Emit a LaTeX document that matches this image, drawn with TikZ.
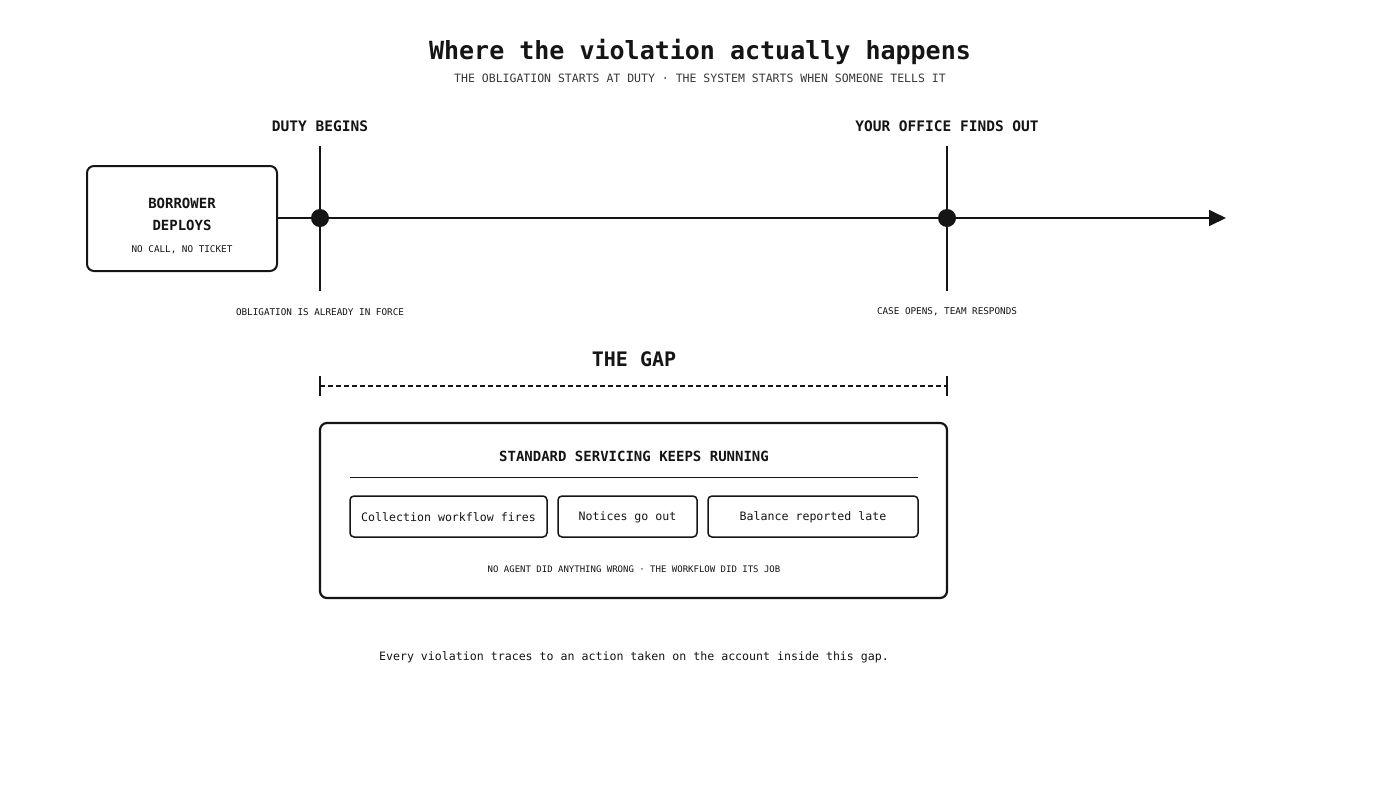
\documentclass[tikz,border=0pt]{standalone}
\usepackage{fontspec}
\setmainfont{DejaVu Sans Mono}
\usetikzlibrary{arrows.meta}
\definecolor{ink}{HTML}{151515}
\begin{document}
\begin{tikzpicture}[x=1pt,y=-1pt,
  lbl/.style={font=\fontsize{14.5}{16}\selectfont\bfseries,text=ink},
  tiny/.style={font=\fontsize{9.3}{11}\selectfont,text=ink},
  chip/.style={draw=ink,line width=1.5pt,rounded corners=4pt},
  chiptxt/.style={font=\fontsize{11.6}{13}\selectfont,text=ink}]
\useasboundingbox (0,0) rectangle (1400,788);
\fill[white] (0,0) rectangle (1400,788);
\node[font=\fontsize{25}{28}\selectfont\bfseries,text=ink] (title) at (700,52) {Where the violation actually happens};
\node[font=\fontsize{11.5}{13}\selectfont,text=ink!85] (sub) at (700,78) {THE OBLIGATION STARTS AT DUTY · THE SYSTEM STARTS WHEN SOMEONE TELLS IT};
\node[lbl] (duty) at (320,126) {DUTY BEGINS};
\node[lbl] (office) at (947,126) {YOUR OFFICE FINDS OUT};
\draw[ink,line width=2pt,rounded corners=7pt] (87,166) rectangle (277,271);
\node[lbl,align=center,font=\fontsize{14}{22}\selectfont\bfseries] (bor) at (182,214) {BORROWER\\DEPLOYS};
\node[tiny] (nocall) at (182,250) {NO CALL, NO TICKET};
\coordinate (ls) at (277,218);
\coordinate (le) at (1226,218);
\draw[ink,line width=1.8pt,-{Triangle[length=17pt,width=16pt]}] (ls) -- (le);
\draw[ink,line width=2pt] (320,146) -- (320,291);
\draw[ink,line width=2pt] (947,146) -- (947,291);
\fill[ink] (320,218) circle (9);
\fill[ink] (947,218) circle (9);
\node[tiny] (obl) at (320,312) {OBLIGATION IS ALREADY IN FORCE};
\node[tiny] (case) at (947,312) {CASE OPENS, TEAM RESPONDS};
\node[font=\fontsize{20}{22}\selectfont\bfseries,text=ink] (gap) at (634,359) {THE GAP};
\draw[ink,line width=1.8pt,dash pattern=on 5pt off 3pt] (320,386) -- (947,386);
\draw[ink,line width=2pt] (320,376) -- (320,396) (947,376) -- (947,396);
\draw[ink,line width=2.2pt,rounded corners=7pt] (320,423) rectangle (947,598);
\node[lbl,font=\fontsize{14}{16}\selectfont\bfseries] (std) at (634,456) {STANDARD SERVICING KEEPS RUNNING};
\draw[ink,line width=1pt] (350,477) -- (918,477);
\draw[chip] (350,496) rectangle (547,537);
\node[chiptxt] (c1) at (448.5,517) {Collection workflow fires};
\draw[chip] (558,496) rectangle (697,537);
\node[chiptxt] (c2) at (627.5,517) {Notices go out};
\draw[chip] (708,496) rectangle (918,537);
\node[chiptxt] (c3) at (813,517) {Balance reported late};
\node[tiny,font=\fontsize{9}{11}\selectfont] (noagent) at (634,569) {NO AGENT DID ANYTHING WRONG · THE WORKFLOW DID ITS JOB};
\node[chiptxt,font=\fontsize{11.6}{13}\selectfont] (foot) at (634,657) {Every violation traces to an action taken on the account inside this gap.};
\end{tikzpicture}
\end{document}
